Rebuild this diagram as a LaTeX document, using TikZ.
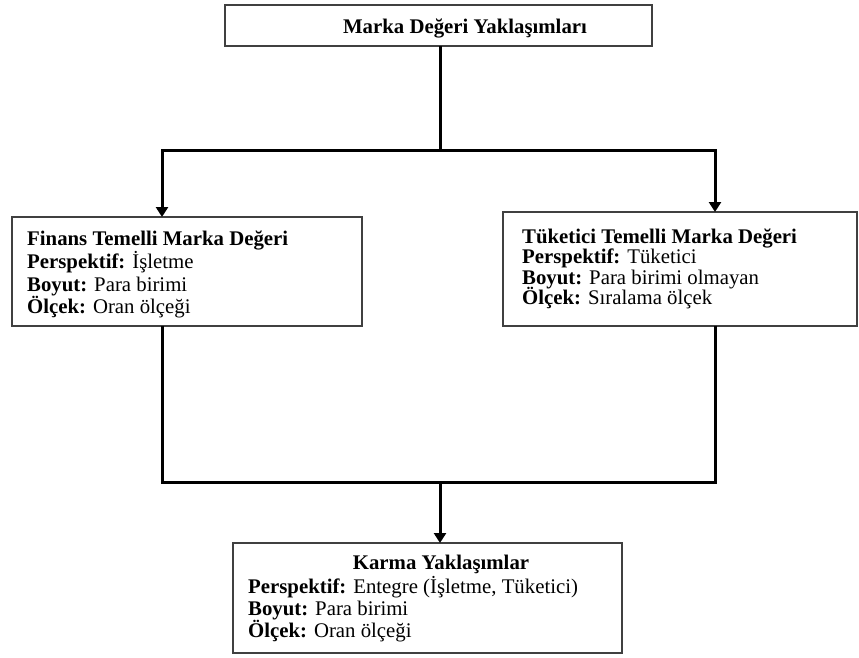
\documentclass[tikz,border=0pt]{standalone}
\usepackage{fontspec}
\setmainfont{Liberation Serif}
\usetikzlibrary{arrows.meta}
\begin{document}
\begin{tikzpicture}[x=1pt,y=-1pt,
  box/.style={draw=black!75, line width=1.1pt, inner sep=0pt, outer sep=0pt, anchor=north west},
  conn/.style={line width=3pt, black},
  arr/.style={conn, -{Triangle[width=12pt,length=10pt]}},
  txt/.style={inner sep=0pt, anchor=base west, font=\fontsize{20.8}{23}\selectfont},
  ctxt/.style={inner sep=0pt, anchor=base, font=\fontsize{20.8}{23}\selectfont\bfseries}]
\useasboundingbox (0,0) rectangle (859,657);
% boxes
\node[box, minimum width=427pt, minimum height=41pt] (top) at (225,5) {};
\node[box, minimum width=350pt, minimum height=109pt] (left) at (12,217) {};
\node[box, minimum width=354pt, minimum height=114pt] (right) at (503,212) {};
\node[box, minimum width=389pt, minimum height=110pt] (bottom) at (233,543) {};
% texts
\node[ctxt] (ttitle) at (465,33) {Marka Değeri Yaklaşımları};
\node[txt] (l1) at (27,245) {\textbf{Finans Temelli Marka Değeri}};
\node[txt] (l2) at (27,268) {\textbf{Perspektif:} İşletme};
\node[txt] (l3) at (27,291) {\textbf{Boyut:} Para birimi};
\node[txt] (l4) at (27,313) {\textbf{Ölçek:} Oran ölçeği};
\node[txt] (r1) at (522,243) {\textbf{Tüketici Temelli Marka Değeri}};
\node[txt] (r2) at (522,263) {\textbf{Perspektif:} Tüketici};
\node[txt] (r3) at (522,284) {\textbf{Boyut:} Para birimi olmayan};
\node[txt] (r4) at (522,304) {\textbf{Ölçek:} Sıralama ölçek};
\node[ctxt] (btitle) at (441,569) {Karma Yaklaşımlar};
\node[txt] (b2) at (248,593) {\textbf{Perspektif:} Entegre (İşletme, Tüketici)};
\node[txt] (b3) at (248,615) {\textbf{Boyut:} Para birimi};
\node[txt] (b4) at (248,637) {\textbf{Ölçek:} Oran ölçeği};
% connectors
\coordinate (tm) at (440,150);
\coordinate (tl) at (162,150);
\coordinate (tr) at (715,150);
\coordinate (bl) at (162,482);
\coordinate (bm) at (440,482);
\coordinate (br) at (715,482);
\draw[conn] (top.south -| tm) -- (tm);
\draw[conn, line cap=rect] (tl) -- (tr);
\draw[arr] (tl) -- (tl |- left.north);
\draw[arr] (tr) -- (tr |- right.north);
\draw[conn] (left.south -| bl) -- (bl) -- (br) -- (right.south -| br);
\draw[arr] (bm) -- (bm |- bottom.north);
\end{tikzpicture}
\end{document}
